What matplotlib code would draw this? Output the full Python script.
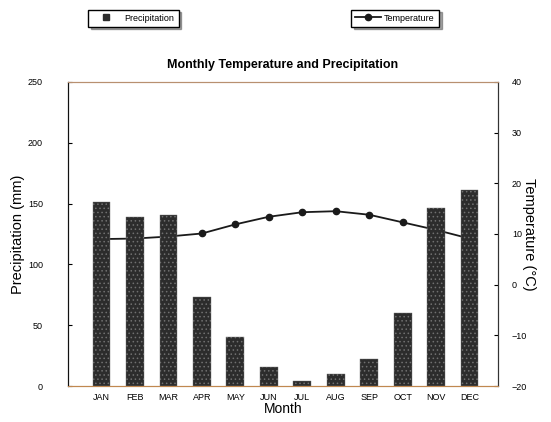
import matplotlib
matplotlib.use("Agg")
import matplotlib.pyplot as plt
from matplotlib.lines import Line2D

months = ["JAN", "FEB", "MAR", "APR", "MAY", "JUN",
          "JUL", "AUG", "SEP", "OCT", "NOV", "DEC"]
precipitation = [151, 139, 141, 73, 40, 16, 4, 10, 22, 60, 146, 161]
temperature = [9.0, 9.1, 9.5, 10.1, 11.9, 13.4, 14.3, 14.5, 13.8, 12.3, 10.8, 9.1]

plt.rcParams['font.family'] = ['Liberation Sans', 'DejaVu Sans']
plt.rcParams['hatch.linewidth'] = 0.6

fig = plt.figure(figsize=(5.51, 4.22), dpi=100)
ax = fig.add_axes([0.1234, 0.0853, 0.7805, 0.7204])
ax2 = ax.twinx()

x = list(range(len(months)))

# bars sit above the temperature line
ax.set_zorder(ax2.get_zorder() + 1)
ax.patch.set_visible(False)

ax.bar(x, precipitation, width=0.53, color='#2c2c2c', edgecolor='#707070',
       hatch='....', linewidth=0.3)
ax2.plot(x, temperature, '-', color='#1a1a1a', lw=1.3, marker='o',
         markersize=4.5, markerfacecolor='#1a1a1a')

ax.set_xlim(-1.0, 11.85)
ax.set_ylim(0, 250)
ax.set_yticks([0, 50, 100, 150, 200, 250])
ax.set_xticks(x)
ax.set_xticklabels(months)
ax2.set_ylim(-20, 40)
ax2.set_yticks([-20, -10, 0, 10, 20, 30, 40])

ax.tick_params(axis='y', direction='in', length=3, labelsize=6.5, pad=18)
ax.tick_params(axis='x', length=0, labelsize=6.5, pad=5)
ax2.tick_params(axis='y', direction='in', length=3, labelsize=6.5, pad=10)

for a in (ax, ax2):
    a.spines['top'].set_color('#b89070')
    a.spines['bottom'].set_color('#c08850')
    a.spines['left'].set_color('#111111')
    a.spines['right'].set_color('#333333')

ax.set_xlabel('Month', fontsize=10, labelpad=0)
ax.set_ylabel('Precipitation (mm)', fontsize=10.5, labelpad=2)
ax2.set_ylabel('Temperature (°C)', fontsize=10.5, rotation=270, labelpad=6)
ax.set_title('Monthly Temperature and Precipitation', fontsize=9,
             fontweight='bold', pad=10)

h1 = [Line2D([0], [0], ls='none', marker='s', markersize=5,
             color='#2c2c2c')]
h2 = [Line2D([0], [0], color='#1a1a1a', lw=1.3, marker='o', markersize=4.5)]
fig.legend(h1, ['Precipitation'], loc='center', bbox_to_anchor=(0.242, 0.957),
           fontsize=6.5, fancybox=False, shadow=True, edgecolor='black',
           handlelength=3.0, handletextpad=0.6, borderpad=0.45)
fig.legend(h2, ['Temperature'], loc='center', bbox_to_anchor=(0.717, 0.957),
           fontsize=6.5, fancybox=False, shadow=True, edgecolor='black',
           handlelength=2.8, handletextpad=0.4, borderpad=0.45)

fig.savefig('out.png', dpi=100)
